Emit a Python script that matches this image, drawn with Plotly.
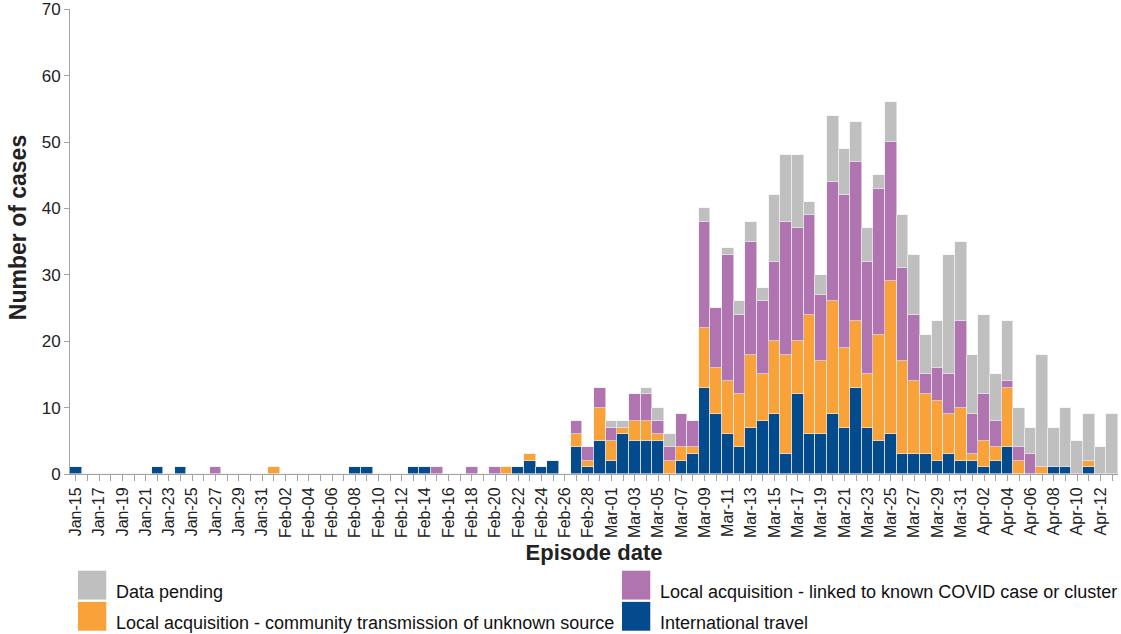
import pandas as pd
import plotly.graph_objects as go

# daily episode dates, 2020
dates = pd.date_range("2020-01-15", "2020-04-13", freq="D")

international = [
    1, 0, 0, 0, 0, 0, 0, 1, 0, 1,
    0, 0, 0, 0, 0, 0, 0, 0, 0, 0,
    0, 0, 0, 0, 1, 1, 0, 0, 0, 1,
    1, 0, 0, 0, 0, 0, 0, 0, 1, 2,
    1, 2, 0, 4, 1, 5, 2, 6, 5, 5,
    5, 0, 2, 3, 13, 9, 6, 4, 7, 8,
    9, 3, 12, 6, 6, 9, 7, 13, 7, 5,
    6, 3, 3, 3, 2, 3, 2, 2, 1, 2,
    4, 0, 0, 0, 1, 1, 0, 1, 0, 0,
]
community = [
    0, 0, 0, 0, 0, 0, 0, 0, 0, 0,
    0, 0, 0, 0, 0, 0, 0, 1, 0, 0,
    0, 0, 0, 0, 0, 0, 0, 0, 0, 0,
    0, 0, 0, 0, 0, 0, 0, 1, 0, 1,
    0, 0, 0, 2, 1, 5, 3, 1, 3, 3,
    1, 2, 2, 1, 9, 7, 8, 8, 11, 7,
    11, 15, 8, 18, 11, 17, 12, 10, 8, 16,
    23, 14, 11, 9, 9, 6, 8, 1, 4, 2,
    9, 2, 0, 1, 0, 0, 0, 1, 0, 0,
]
linked = [
    0, 0, 0, 0, 0, 0, 0, 0, 0, 0,
    0, 0, 1, 0, 0, 0, 0, 0, 0, 0,
    0, 0, 0, 0, 0, 0, 0, 0, 0, 0,
    0, 1, 0, 0, 1, 0, 1, 0, 0, 0,
    0, 0, 0, 2, 2, 3, 2, 0, 4, 4,
    2, 2, 5, 4, 16, 9, 19, 12, 17, 11,
    12, 20, 17, 15, 10, 18, 23, 24, 17, 22,
    21, 14, 10, 3, 5, 6, 13, 6, 7, 4,
    1, 2, 3, 0, 0, 0, 0, 0, 0, 0,
]
pending = [
    0, 0, 0, 0, 0, 0, 0, 0, 0, 0,
    0, 0, 0, 0, 0, 0, 0, 0, 0, 0,
    0, 0, 0, 0, 0, 0, 0, 0, 0, 0,
    0, 0, 0, 0, 0, 0, 0, 0, 0, 0,
    0, 0, 0, 0, 0, 0, 1, 1, 0, 1,
    2, 2, 0, 0, 2, 0, 1, 2, 3, 2,
    10, 10, 11, 2, 3, 10, 7, 6, 5, 2,
    6, 8, 9, 6, 7, 18, 12, 9, 12, 7,
    9, 6, 4, 17, 6, 9, 5, 7, 4, 9,
]

series = [
    ("International travel", international, "#034b8c"),
    ("Local acquisition - community transmission of unknown source", community, "#faa23a"),
    ("Local acquisition - linked to known COVID case or cluster", linked, "#b074b0"),
    ("Data pending", pending, "#bfbfbf"),
]

fig = go.Figure()
for name, vals, color in series:
    fig.add_trace(go.Bar(
        x=dates,
        y=vals,
        name=name,
        marker=dict(color=color, line=dict(color="#f2f2f2", width=0.6)),
        showlegend=False,
    ))

# plot area in pixels: x 70..1118, y 9..474 -> paper fractions below
# legend drawn by hand: big square swatches in two columns
legend_items = [
    ("Data pending", "#bfbfbf", 0.0076, -0.208),
    ("Local acquisition - community transmission of unknown source", "#faa23a", 0.0076, -0.275),
    ("Local acquisition - linked to known COVID case or cluster", "#b074b0", 0.5267, -0.208),
    ("International travel", "#034b8c", 0.5267, -0.275),
]
for label, color, lx, ly in legend_items:
    fig.add_shape(
        type="rect", xref="paper", yref="paper",
        x0=lx, x1=lx + 0.027, y0=ly, y1=ly - 0.062,
        fillcolor=color, line=dict(width=0),
    )
    fig.add_annotation(
        text=label, xref="paper", yref="paper",
        x=lx + 0.034, y=ly - 0.046, xanchor="left", yanchor="middle",
        showarrow=False, font=dict(size=18, color="#111"),
    )

# y title sits a bit above the plot's middle in the original
fig.add_annotation(
    text="<b>Number of cases</b>", xref="paper", yref="paper",
    x=-0.05, y=0.53, xanchor="center", yanchor="middle", textangle=-90,
    showarrow=False, font=dict(size=23, color="#222"),
)

axis_grey = "#a3a3a3"
fig.update_layout(
    width=1121,
    height=634,
    margin=dict(l=70, r=3, t=9, b=160),
    barmode="stack",
    bargap=0,
    plot_bgcolor="white",
    paper_bgcolor="white",
    font=dict(family="Liberation Sans, Arial, sans-serif", color="#222"),
    xaxis=dict(
        type="date",
        range=["2020-01-14 12:00", "2020-04-13 12:00"],
        tick0="2020-01-15",
        dtick=2 * 86400000,
        tickformat="%b-%d",
        tickangle=-90,
        tickfont=dict(size=16),
        ticks="outside",
        ticklen=6,
        tickcolor=axis_grey,
        minor=dict(dtick=86400000, ticks="outside", ticklen=6, tickcolor=axis_grey),
        showline=True,
        linecolor=axis_grey,
        showgrid=False,
        automargin=False,
        title=dict(text="<b>Episode date</b>", font=dict(size=22), standoff=7),
    ),
    yaxis=dict(
        range=[0, 70.05],
        tickvals=[0, 10, 20, 30, 40, 50, 60, 70],
        tickfont=dict(size=17),
        ticks="outside",
        ticklen=5,
        tickcolor=axis_grey,
        showline=True,
        linecolor=axis_grey,
        showgrid=False,
        zeroline=False,
        automargin=False,
    ),
)

# drop the default 8px page margin so the figure sits at the window's corner
fig.write_html(
    "out.html",
    config={"displayModeBar": False},
    post_script="document.body.style.margin='0';",
)
